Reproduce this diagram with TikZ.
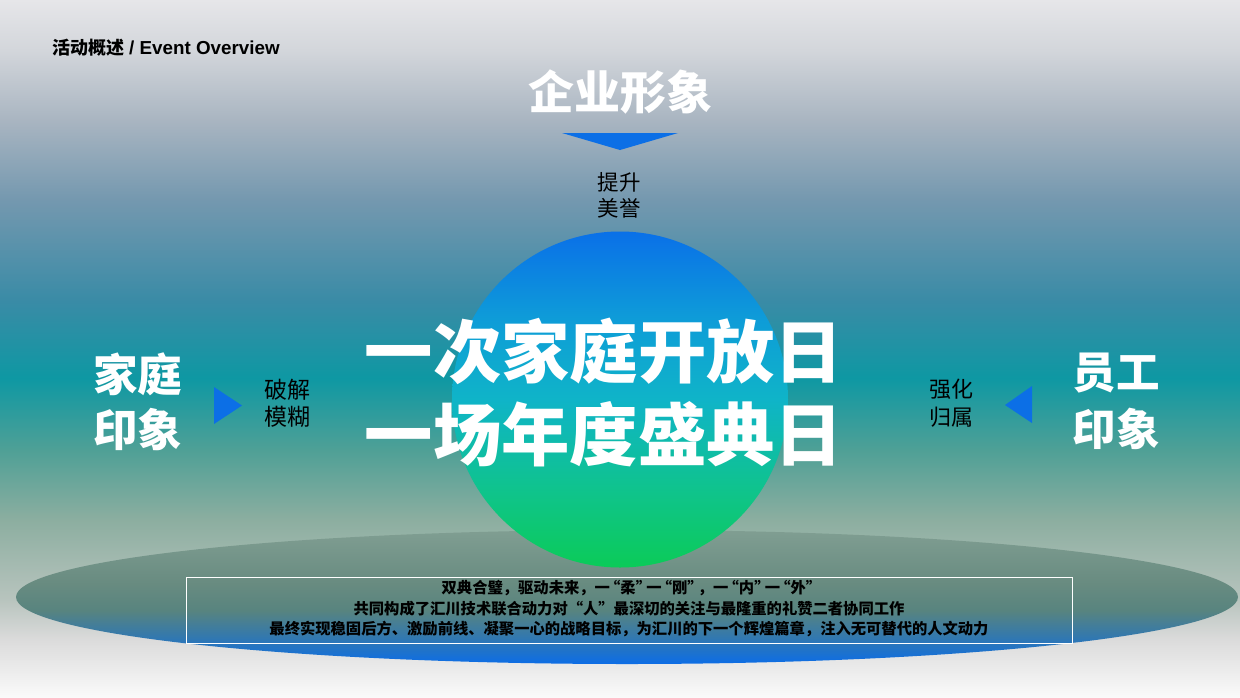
\documentclass[tikz,border=0pt]{standalone}
\usepackage{fontspec}
\setmainfont{Liberation Sans}
\newfontfamily\cjk{Noto Sans CJK SC}
\definecolor{triblue}{HTML}{0C6FE6}
\newcommand\myoq{\kern-4.8pt“}
\newcommand\mycq{”\kern-4.8pt}
\pgfdeclareverticalshading{bgshade}{100bp}{%
color(0bp)=(white!96!gray);
color(25bp)=(white!96!gray);
color(29.09bp)=(black!14);
color(31.96bp)=(rgb,255:red,184;green,196;blue,190);
color(37.70bp)=(rgb,255:red,140;green,174;blue,160);
color(42.72bp)=(rgb,255:red,79;green,160;blue,150);
color(47.88bp)=(rgb,255:red,14;green,152;blue,163);
color(53.48bp)=(rgb,255:red,58;green,139;blue,166);
color(60.65bp)=(rgb,255:red,116;green,152;blue,175);
color(66.39bp)=(rgb,255:red,169;green,181;blue,193);
color(71.41bp)=(rgb,255:red,211;green,214;blue,219);
color(75bp)=(rgb,255:red,230;green,230;blue,233);
color(100bp)=(rgb,255:red,230;green,230;blue,233)}
\pgfdeclareverticalshading{circshade}{100bp}{%
color(0bp)=(rgb,255:red,11;green,203;blue,88);
color(25bp)=(rgb,255:red,11;green,203;blue,88);
color(36bp)=(rgb,255:red,15;green,196;blue,138);
color(50bp)=(rgb,255:red,15;green,180;blue,200);
color(62bp)=(rgb,255:red,14;green,156;blue,216);
color(75bp)=(rgb,255:red,10;green,112;blue,232);
color(100bp)=(rgb,255:red,10;green,112;blue,232)}
\pgfdeclareverticalshading{ellshade}{100bp}{%
color(0bp)=(rgb,255:red,12;green,109;blue,230);
color(25bp)=(rgb,255:red,12;green,109;blue,230);
color(35bp)=(rgb,255:red,50;green,120;blue,175);
color(45bp)=(rgb,255:red,88;green,132;blue,127);
color(55bp)=(rgb,255:red,104;green,139;blue,128);
color(75bp)=(rgb,255:red,128;green,158;blue,146);
color(100bp)=(rgb,255:red,128;green,158;blue,146)}
\tikzset{
  bigwhite/.style={inner sep=0pt, text=white, font=\cjk\bfseries\fontsize{68.3}{80}\selectfont},
  sidewhite/.style={inner sep=0pt, text=white, align=center},
  smalllabel/.style={inner sep=0pt, text=black, align=center},
  pointer/.style={fill=triblue, draw=none}
}
\begin{document}
\begin{tikzpicture}[x=1pt,y=-1pt]
\useasboundingbox (0,0) rectangle (1240,697);
\shade[shading=bgshade] (0,0) rectangle (1240,697);
% bottom ellipse
\shade[shading=ellshade] (627,597) ellipse [x radius=611, y radius=67];
% circle
\shade[shading=circshade] (620,399.5) circle [radius=168];
% title
\node[anchor=west, inner sep=0pt, font=\bfseries\fontsize{18}{20}\selectfont] (title) at (52,48) {{\cjk\bfseries 活动概述} {\fontsize{18.8}{20}\selectfont / Event Overview}};
% top
\node[sidewhite, font=\cjk\bfseries\fontsize{46}{50}\selectfont] (corp) at (620,92) {企业形象};
\path[pointer] (562,133) -- (678,133) -- (620,150) -- cycle;
\node[smalllabel, font=\cjk\fontsize{21.5}{26}\selectfont] (lift) at (619,195) {提升\\美誉};
% main text
\node[bigwhite] (main1) at (604,351) {一次家庭开放日};
\node[bigwhite] (main2) at (604,434) {一场年度盛典日};
% left
\node[sidewhite, font=\cjk\bfseries\fontsize{44.5}{55}\selectfont] (family) at (137.5,402) {家庭\\印象};
\path[pointer] (214,387) -- (214,424) -- (242,405.5) -- cycle;
\node[smalllabel, font=\cjk\fontsize{23}{27}\selectfont] (break) at (287,403.5) {破解\\模糊};
% right
\node[sidewhite, font=\cjk\bfseries\fontsize{43.5}{57}\selectfont] (staff) at (1116,401.5) {员工\\印象};
\path[pointer] (1032,386) -- (1032,423) -- (1005,405) -- cycle;
\node[smalllabel, font=\cjk\fontsize{22}{28}\selectfont] (belong) at (951,403) {强化\\归属};
% bottom box
\draw[white, line width=0.8pt] (186,577) rectangle (1072,643);
\node[smalllabel, font=\cjk\bfseries\fontsize{15.3}{20.5}\selectfont] (summary) at (629,609) {双典合璧，驱动未来，一\myoq 柔\mycq 一\myoq 刚\mycq ，一\myoq 内\mycq 一\myoq 外\mycq\\共同构成了汇川技术联合动力对“人”最深切的关注与最隆重的礼赞二者协同工作\\最终实现稳固后方、激励前线、凝聚一心的战略目标，为汇川的下一个辉煌篇章，注入无可替代的人文动力};
\end{tikzpicture}
\end{document}
